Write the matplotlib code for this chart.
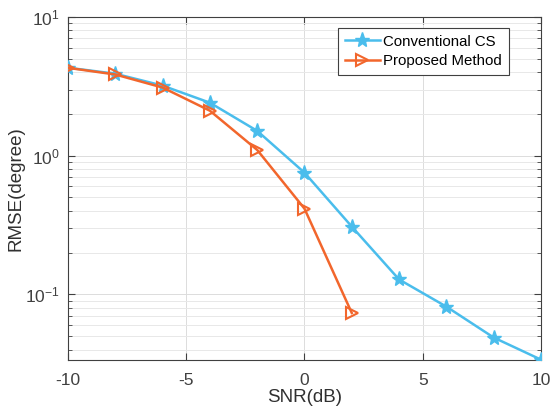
import matplotlib
matplotlib.use("Agg")
import matplotlib.pyplot as plt
from matplotlib.ticker import LogLocator, NullFormatter

snr = [-10, -8, -6, -4, -2, 0, 2, 4, 6, 8, 10]
conv_cs = [4.31, 3.90, 3.20, 2.41, 1.51, 0.754, 0.308, 0.128, 0.0815, 0.0488, 0.0338]
snr_prop = [-10, -8, -6, -4, -2, 0, 2]
proposed = [4.30, 3.85, 3.10, 2.11, 1.10, 0.415, 0.0734]
xticks = [-10, -5, 0, 5, 10]

plt.rcParams['font.family'] = ['Liberation Sans', 'DejaVu Sans']

fig = plt.figure(figsize=(5.5, 4.13), dpi=100)
ax = fig.add_axes([0.1236, 0.1283, 0.86, 0.8305])

blue = '#4ABDEC'
orange = '#F2662C'
ax.plot(snr, conv_cs, color=blue, lw=1.8, marker='*', ms=11, mfc=blue, mec=blue,
        label='Conventional CS', zorder=3)
ax.plot(snr_prop, proposed, color=orange, lw=1.8, marker='>', ms=9, mfc='none', mec=orange,
        mew=1.5, label='Proposed Method', zorder=4)

ax.set_yscale('log')
ax.set_xlim(-10, 10)
ax.set_ylim(0.0336, 10)
ax.set_xticks(xticks)
ax.set_xticklabels([str(t) for t in xticks])
ax.yaxis.set_major_locator(LogLocator(base=10, numticks=10))
ax.yaxis.set_minor_locator(LogLocator(base=10, subs=range(2, 10), numticks=20))
ax.yaxis.set_minor_formatter(NullFormatter())

ax.grid(True, which='major', color='#dcdcdc', lw=0.7)
ax.grid(True, which='minor', axis='y', color='#e8e8e8', lw=0.7)
ax.set_axisbelow(True)

ax.tick_params(which='both', direction='in', top=True, right=True, labelsize=12.5, colors='#404040')
ax.tick_params(axis='x', which='major', pad=9)
ax.tick_params(axis='y', which='major', pad=6)
ax.tick_params(which='major', length=5)
ax.tick_params(which='minor', length=3)
for s in ax.spines.values():
    s.set_color('#404040')
    s.set_linewidth(0.8)

ax.set_xlabel('SNR(dB)', fontsize=13.5, color='#303030', labelpad=1)
ax.set_ylabel('RMSE(degree)', fontsize=13.5, color='#303030', labelpad=0)

leg = ax.legend(loc='upper right', bbox_to_anchor=(0.932, 0.968), borderaxespad=0,
                fontsize=10.8, fancybox=False, edgecolor='#404040', framealpha=1,
                handlelength=2.3, borderpad=0.45, labelspacing=0.35, handletextpad=0.25)
leg.get_frame().set_linewidth(0.8)

fig.savefig('out.png', dpi=100)
